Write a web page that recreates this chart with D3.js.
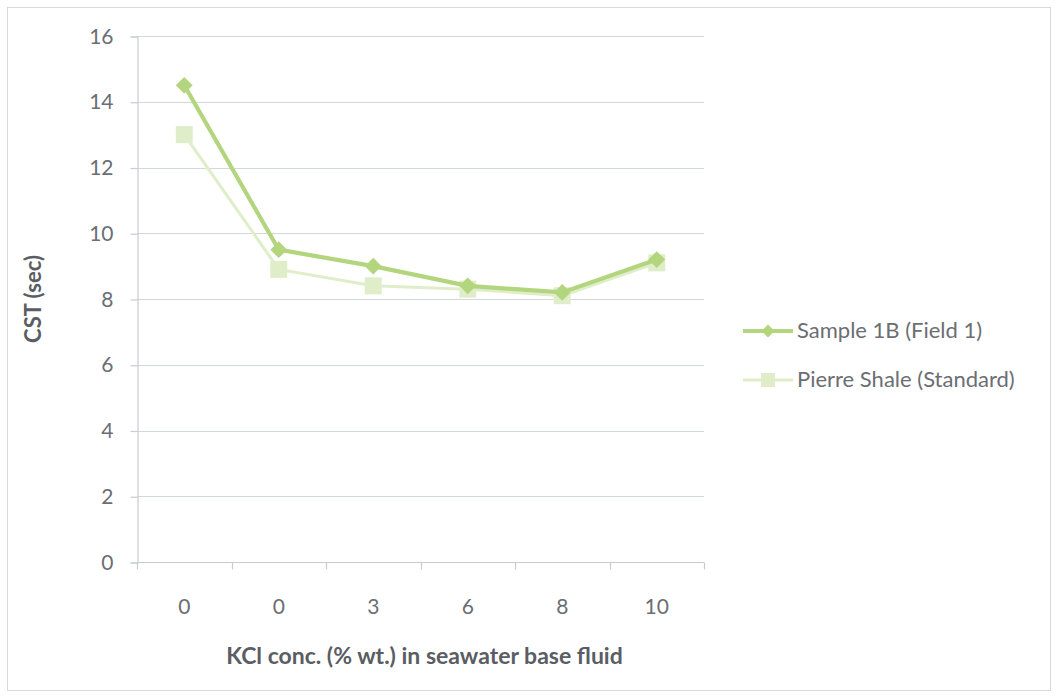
<!DOCTYPE html>
<html>
<head>
<meta charset="utf-8">
<script src="https://cdn.jsdelivr.net/npm/d3@7"></script>
<style>
  html, body { margin: 0; padding: 0; background: #fff; }
  svg { display: block; }
  text { font-family: Lato, "Open Sans", sans-serif; }
</style>
</head>
<body>
<svg id="chart" width="1059" height="698"></svg>
<script>
// KCl concentration categories (% wt.) on the x axis
const categories = ["0", "0", "3", "6", "8", "10"];
// Capillary suction time (sec) per sample
const sample1B = [14.5, 9.5, 9.0, 8.4, 8.2, 9.2];
const pierreShale = [13.0, 8.9, 8.4, 8.3, 8.1, 9.1];
const yTicks = [0, 2, 4, 6, 8, 10, 12, 14, 16];
const seriesNames = ["Sample 1B (Field 1)", "Pierre Shale (Standard)"];

const svg = d3.select("#chart");
const W = 1059, H = 698;
const plot = { left: 137, right: 704, top: 36, bottom: 562 };
const labelColor = "#6b6e73";
const titleColor = "#5a5d63";
const axisColor = "#c8ccd2";

// outer chart frame
svg.append("rect")
  .attr("x", 7.5).attr("y", 7.5)
  .attr("width", W - 9 - 7).attr("height", H - 8 - 7)
  .attr("fill", "#fff").attr("stroke", "#d9d9d9").attr("stroke-width", 1);

const x = d3.scaleBand().domain(d3.range(categories.length))
  .range([plot.left, plot.right]);
const y = d3.scaleLinear().domain([0, 16]).range([plot.bottom, plot.top]);

// horizontal gridlines
svg.append("g").selectAll("line").data(yTicks.filter(d => d > 0)).join("line")
  .attr("x1", plot.left).attr("x2", plot.right)
  .attr("y1", d => Math.round(y(d)) + 0.5).attr("y2", d => Math.round(y(d)) + 0.5)
  .attr("stroke", "#d3d8df").attr("stroke-width", 1.2);

// y axis
const yAxis = d3.axisLeft(y).tickValues(yTicks).tickSize(7).tickPadding(17);
const gy = svg.append("g").attr("transform", `translate(${plot.left + 0.5},0.5)`).call(yAxis);
gy.select(".domain").attr("stroke", axisColor).attr("stroke-width", 1.2);
gy.selectAll(".tick line").attr("stroke", axisColor).attr("stroke-width", 1.2);
gy.selectAll(".tick text").attr("fill", labelColor).attr("font-size", 21)
  .attr("font-family", "Lato, sans-serif");

// x axis with ticks on category boundaries
const gx = svg.append("g").attr("transform", `translate(0,${plot.bottom + 0.5})`);
gx.append("line").attr("x1", plot.left).attr("x2", plot.right)
  .attr("stroke", axisColor).attr("stroke-width", 1.2);
const bounds = d3.range(categories.length + 1).map(i => plot.left + i * x.bandwidth());
gx.selectAll("line.tk").data(bounds).join("line").attr("class", "tk")
  .attr("x1", d => Math.round(d) + 0.5).attr("x2", d => Math.round(d) + 0.5)
  .attr("y1", 0).attr("y2", 7)
  .attr("stroke", axisColor).attr("stroke-width", 1.2);
gx.selectAll("text").data(categories).join("text")
  .attr("x", (d, i) => x(i) + x.bandwidth() / 2)
  .attr("y", 51)
  .attr("text-anchor", "middle")
  .attr("fill", labelColor).attr("font-size", 21)
  .text(d => d);

// axis titles
svg.append("text")
  .attr("transform", `translate(41,${(plot.top + plot.bottom) / 2}) rotate(-90)`)
  .attr("text-anchor", "middle")
  .attr("font-size", 22).attr("font-weight", "bold").attr("fill", titleColor)
  .text("CST (sec)");
svg.append("text")
  .attr("x", (plot.left + plot.right) / 2 + 4).attr("y", 664)
  .attr("text-anchor", "middle")
  .attr("font-size", 23).attr("font-weight", "bold").attr("fill", titleColor)
  .text("KCl conc. (% wt.) in seawater base fluid");

const cx = i => x(i) + x.bandwidth() / 2;
const line = d3.line().x((d, i) => cx(i)).y(d => y(d));

const colorA = "#b2d57e";
const colorB = "#dfeec9";

// Pierre Shale series (drawn underneath)
svg.append("path").datum(pierreShale).attr("d", line)
  .attr("fill", "none").attr("stroke", colorB).attr("stroke-width", 3);
svg.append("g").selectAll("path").data(pierreShale).join("path")
  .attr("d", d3.symbol(d3.symbolSquare, 289)())
  .attr("transform", (d, i) => `translate(${cx(i)},${y(d)})`)
  .attr("fill", colorB);

// Sample 1B series
svg.append("path").datum(sample1B).attr("d", line)
  .attr("fill", "none").attr("stroke", colorA).attr("stroke-width", 4.2);
svg.append("g").selectAll("path").data(sample1B).join("path")
  .attr("d", d3.symbol(d3.symbolDiamond2, 180)())
  .attr("transform", (d, i) => `translate(${cx(i)},${y(d)})`)
  .attr("fill", colorA);

// legend
const legend = svg.append("g");
const legendRows = [
  { name: seriesNames[0], color: colorA, sym: d3.symbolDiamond2, size: 110, w: 4, yy: 331 },
  { name: seriesNames[1], color: colorB, sym: d3.symbolSquare, size: 196, w: 3, yy: 380 }
];
legendRows.forEach(r => {
  legend.append("line").attr("x1", 743).attr("x2", 793)
    .attr("y1", r.yy).attr("y2", r.yy)
    .attr("stroke", r.color).attr("stroke-width", r.w);
  legend.append("path").attr("d", d3.symbol(r.sym, r.size)())
    .attr("transform", `translate(768,${r.yy})`).attr("fill", r.color);
  legend.append("text").attr("x", 797).attr("y", r.yy + 7)
    .attr("font-size", 22).attr("fill", labelColor).text(r.name);
});
</script>
</body>
</html>
